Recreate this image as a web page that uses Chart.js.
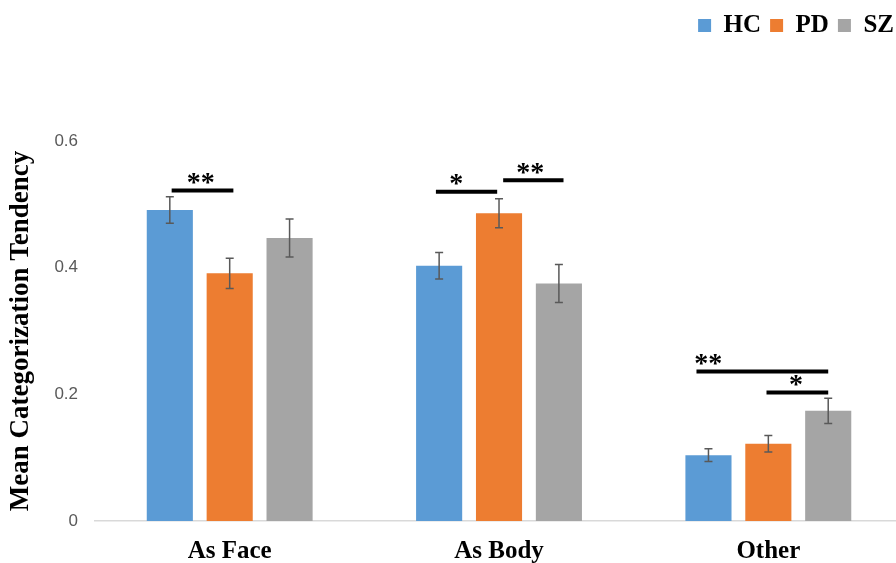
<!DOCTYPE html>
<html>
<head>
<meta charset="utf-8">
<script src="https://cdn.jsdelivr.net/npm/chart.js@4.4.1/dist/chart.umd.min.js"></script>
<style>
  html, body { margin: 0; padding: 0; background: #fff; overflow: hidden; }
  #wrap { width: 903px; height: 583px; }
</style>
</head>
<body>
<div id="wrap"><canvas id="chart" width="903" height="583"></canvas></div>
<script>
// categories and groups
const categories = ['As Face', 'As Body', 'Other'];
const groupNames = ['HC', 'PD', 'SZ'];

// means and standard errors
const hcMeans = [0.491, 0.403, 0.104];
const pdMeans = [0.391, 0.486, 0.122];
const szMeans = [0.447, 0.375, 0.174];
const hcErrors = [0.021, 0.021, 0.010];
const pdErrors = [0.024, 0.023, 0.013];
const szErrors = [0.030, 0.030, 0.020];

const yTicks = [0, 0.2, 0.4, 0.6];

// significance brackets: category, from group, to group, height, label
const bracketCategory = [0, 1, 1, 2, 2];
const bracketFrom = [0, 0, 1, 0, 1];
const bracketTo = [1, 1, 2, 2, 2];
const bracketLevel = [0.522, 0.520, 0.538, 0.236, 0.203];
const bracketLabel = ['**', '*', '**', '**', '*'];

const colors = ['#5B9BD5', '#ED7D31', '#A5A5A5'];
const allMeans = [hcMeans, pdMeans, szMeans];
const allErrors = [hcErrors, pdErrors, szErrors];

// extra space under the legend
const legendGap = {
    id: 'legendGap',
    beforeInit(chart) {
        const fit = chart.legend.fit;
        chart.legend.fit = function () {
            fit.bind(chart.legend)();
            this.height += 93;
        };
    }
};

// error bars on top of the bars
const errorBars = {
    id: 'errorBars',
    afterDatasetsDraw(chart) {
        const ctx = chart.ctx;
        const y = chart.scales.y;
        ctx.save();
        ctx.strokeStyle = '#595959';
        ctx.lineWidth = 1.5;
        chart.data.datasets.forEach((ds, i) => {
            chart.getDatasetMeta(i).data.forEach((bar, j) => {
                const v = ds.data[j];
                const e = allErrors[i][j];
                const top = y.getPixelForValue(v + e);
                const bot = y.getPixelForValue(v - e);
                ctx.beginPath();
                ctx.moveTo(bar.x, top); ctx.lineTo(bar.x, bot);
                ctx.moveTo(bar.x - 4, top); ctx.lineTo(bar.x + 4, top);
                ctx.moveTo(bar.x - 4, bot); ctx.lineTo(bar.x + 4, bot);
                ctx.stroke();
            });
        });
        ctx.restore();
    }
};

// significance lines and stars
const startShift = [0.04, -0.07, 0.09, -0.26, -0.04];
const endShift = [0.08, -0.04, 0.1, 0, 0];
const starAt = [0.47, 0.33, 0.45, 0.09, 0.48];
const brackets = {
    id: 'brackets',
    afterDatasetsDraw(chart) {
        const ctx = chart.ctx;
        const y = chart.scales.y;
        ctx.save();
        ctx.strokeStyle = '#000';
        ctx.fillStyle = '#000';
        ctx.lineWidth = 4;
        ctx.font = 'bold 28px "Liberation Serif", "Times New Roman", serif';
        ctx.textAlign = 'center';
        ctx.textBaseline = 'middle';
        bracketLabel.forEach((label, k) => {
            const c = bracketCategory[k];
            const a = chart.getDatasetMeta(bracketFrom[k]).data[c];
            const b = chart.getDatasetMeta(bracketTo[k]).data[c];
            const x1 = a.x + startShift[k] * a.width;
            const x2 = b.x + endShift[k] * b.width;
            const py = y.getPixelForValue(bracketLevel[k]);
            ctx.beginPath();
            ctx.moveTo(x1, py); ctx.lineTo(x2, py);
            ctx.stroke();
            ctx.fillText(label, x1 + (x2 - x1) * starAt[k], py - 7);
        });
        ctx.restore();
    }
};

const serif = '"Liberation Serif", "Times New Roman", serif';

new Chart(document.getElementById('chart').getContext('2d'), {
    type: 'bar',
    data: {
        labels: categories,
        datasets: groupNames.map((name, i) => ({
            label: name,
            data: allMeans[i],
            backgroundColor: colors[i],
            categoryPercentage: 0.667,
            barPercentage: 0.77
        }))
    },
    options: {
        responsive: false,
        animation: false,
        layout: { padding: { top: 4, left: 0, right: 0, bottom: 0 } },
        plugins: {
            legend: {
                position: 'top',
                align: 'end',
                labels: {
                    boxWidth: 13,
                    boxHeight: 13,
                    padding: 9,
                    color: '#000',
                    font: { family: serif, size: 25, weight: 'bold' }
                }
            },
            tooltip: { enabled: false }
        },
        scales: {
            x: {
                grid: { display: false, drawTicks: false },
                border: { display: true, color: '#d9d9d9', width: 1.5 },
                ticks: {
                    color: '#000',
                    padding: 16,
                    font: { family: serif, size: 25, weight: 'bold' }
                }
            },
            y: {
                min: yTicks[0],
                max: yTicks[yTicks.length - 1],
                afterBuildTicks(axis) { axis.ticks = yTicks.map(v => ({ value: v })); },
                grid: { display: false, drawTicks: false },
                border: { display: false },
                ticks: {
                    color: '#595959',
                    padding: 17,
                    font: { family: '"Liberation Sans", Arial, sans-serif', size: 17 }
                },
                title: {
                    display: true,
                    text: 'Mean Categorization Tendency',
                    color: '#000',
                    padding: { top: 5, bottom: 0 },
                    font: { family: serif, size: 27, weight: 'bold' }
                }
            }
        }
    },
    plugins: [legendGap, errorBars, brackets]
});
</script>
</body>
</html>
